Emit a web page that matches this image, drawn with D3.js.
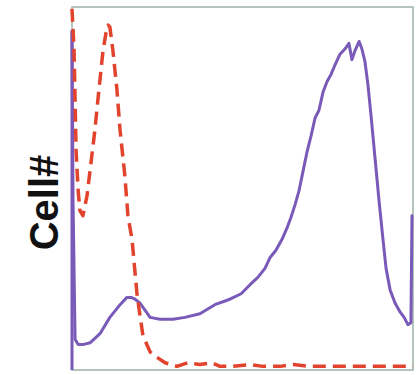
<!DOCTYPE html>
<html>
<head>
<meta charset="utf-8">
<script src="https://cdn.jsdelivr.net/npm/d3@7"></script>
<style>
  html, body { margin: 0; padding: 0; background: #fff; }
  svg { display: block; }
</style>
</head>
<body>
<svg id="chart" width="418" height="375"></svg>
<script>
// Histogram data: fluorescence channel (0-1000) vs cell count
const controlChannel = [0, 6, 9, 12, 18, 23, 32, 44, 53, 67, 76, 91, 100, 106, 111, 120, 132, 141, 155, 164, 176, 191, 208, 229, 249, 273, 308, 340, 375, 410, 434, 470, 522, 560, 610, 650, 698, 740, 786, 830, 874, 920, 962, 1000];
const controlCount   = [199, 177, 149, 121, 99, 88, 85, 96, 110, 132, 149, 176, 186, 190, 189, 176, 154, 132, 107, 85, 72, 41, 19, 10, 7, 4, 2, 4, 3, 4, 2, 2, 3, 2, 2, 3, 2, 2, 2, 2, 2, 2, 2, 2];

const stainedChannel = [0, 3, 9, 18, 32, 53, 82, 111, 141, 161, 173, 185, 199, 214, 229, 258, 296, 331, 375, 419, 463, 496, 522, 545, 566, 581, 598, 616, 630, 642, 654, 666, 677, 689, 701, 713, 724, 736, 748, 760, 771, 786, 801, 812, 821, 830, 842, 850, 859, 868, 877, 889, 900, 912, 921, 933, 947, 962, 974, 985, 994, 997, 1000];
const stainedCount   = [187, 94, 17, 14, 14, 15, 20, 29, 36, 40, 40, 39, 37, 33, 29, 28, 28, 29, 31, 36, 39, 42, 47, 51, 56, 62, 66, 72, 78, 84, 91, 99, 109, 120, 129, 139, 143, 153, 159, 163, 168, 174, 177, 180, 171, 176, 181, 177, 170, 157, 140, 116, 94, 72, 56, 44, 37, 32, 29, 25, 26, 85, 85];

const yLabel = "Cell#";

const svg = d3.select("#chart");
const margin = { left: 72, top: 7, right: 5, bottom: 5 };
const W = 418, H = 375;

const x = d3.scaleLinear().domain([0, 1000]).range([margin.left, W - margin.right]);
const y = d3.scaleLinear().domain([0, 200]).range([H - margin.bottom, margin.top]);

// frame
svg.append("rect")
  .attr("x", x(0)).attr("y", y(200))
  .attr("width", x(1000) - x(0)).attr("height", y(0) - y(200))
  .attr("fill", "none").attr("stroke", "#9fb3a6").attr("stroke-width", 1.5);

const line = d3.line().x(d => x(d[0])).y(d => y(d[1])).curve(d3.curveLinear);

const stained = d3.zip(stainedChannel, stainedCount);
const control = d3.zip(controlChannel, controlCount);

svg.append("path")
  .datum(stained)
  .attr("d", line)
  .attr("fill", "none")
  .attr("stroke", "#7a5ab8")
  .attr("stroke-width", 3)
  .attr("stroke-linejoin", "round");

// purple left edge spike to baseline
svg.append("line")
  .attr("x1", x(0)).attr("x2", x(0))
  .attr("y1", y(stainedCount[0])).attr("y2", y(0))
  .attr("stroke", "#7a5ab8").attr("stroke-width", 3);

svg.append("path")
  .datum(control)
  .attr("d", line)
  .attr("fill", "none")
  .attr("stroke", "#e2432c")
  .attr("stroke-width", 3.5)
  .attr("stroke-dasharray", "13,7")
  .attr("stroke-linejoin", "round");

svg.append("text")
  .attr("transform", `translate(58, ${(y(0) + y(200)) / 2 + 14}) rotate(-90)`)
  .attr("text-anchor", "middle")
  .attr("font-family", "Liberation Sans, Arial, sans-serif")
  .attr("font-weight", "bold")
  .attr("font-size", 40)
  .attr("fill", "#111")
  .text(yLabel);
</script>
</body>
</html>
